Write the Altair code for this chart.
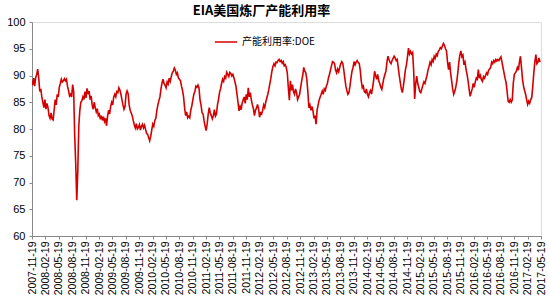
import altair as alt
import pandas as pd

title_text = "EIA美国炼厂产能利用率"
series_name = "产能利用率:DOE"

dates = [
    "2007-11-19", "2007-11-23", "2007-11-30", "2007-12-07", "2007-12-14", "2007-12-21", "2007-12-28",
    "2008-01-04", "2008-01-11", "2008-01-18", "2008-01-25", "2008-02-01", "2008-02-08", "2008-02-15",
    "2008-02-22", "2008-02-29", "2008-03-07", "2008-03-14", "2008-03-21", "2008-03-28", "2008-04-04",
    "2008-04-11", "2008-04-18", "2008-04-25", "2008-05-02", "2008-05-09", "2008-05-16", "2008-05-23",
    "2008-05-30", "2008-06-06", "2008-06-13", "2008-06-20", "2008-06-27", "2008-07-04", "2008-07-11",
    "2008-07-18", "2008-07-25", "2008-08-01", "2008-08-08", "2008-08-15", "2008-08-22", "2008-08-29",
    "2008-09-05", "2008-09-12", "2008-09-19", "2008-09-26", "2008-10-03", "2008-10-10", "2008-10-17",
    "2008-10-24", "2008-10-31", "2008-11-07", "2008-11-14", "2008-11-21", "2008-11-28", "2008-12-05",
    "2008-12-12", "2008-12-19", "2008-12-26",
    "2009-01-02", "2009-01-09", "2009-01-16", "2009-01-23", "2009-01-30", "2009-02-06", "2009-02-13",
    "2009-02-20", "2009-02-27", "2009-03-06", "2009-03-13", "2009-03-20", "2009-03-27", "2009-04-03",
    "2009-04-10", "2009-04-17", "2009-04-24", "2009-05-01", "2009-05-08", "2009-05-15", "2009-05-22",
    "2009-05-29", "2009-06-05", "2009-06-12", "2009-06-19", "2009-06-26", "2009-07-03", "2009-07-10",
    "2009-07-17", "2009-07-24", "2009-07-31", "2009-08-07", "2009-08-14", "2009-08-21", "2009-08-28",
    "2009-09-04", "2009-09-11", "2009-09-18", "2009-09-25", "2009-10-02", "2009-10-09", "2009-10-16",
    "2009-10-23", "2009-10-30", "2009-11-06", "2009-11-13", "2009-11-20", "2009-11-27", "2009-12-04",
    "2009-12-11", "2009-12-18", "2009-12-25",
    "2010-01-01", "2010-01-08", "2010-01-15", "2010-01-22", "2010-01-29", "2010-02-05", "2010-02-12",
    "2010-02-19", "2010-02-26", "2010-03-05", "2010-03-12", "2010-03-19", "2010-03-26", "2010-04-02",
    "2010-04-09", "2010-04-16", "2010-04-23", "2010-04-30", "2010-05-07", "2010-05-14", "2010-05-21",
    "2010-05-28", "2010-06-04", "2010-06-11", "2010-06-18", "2010-06-25", "2010-07-02", "2010-07-09",
    "2010-07-16", "2010-07-23", "2010-07-30", "2010-08-06", "2010-08-13", "2010-08-20", "2010-08-27",
    "2010-09-03", "2010-09-10", "2010-09-17", "2010-09-24", "2010-10-01", "2010-10-08", "2010-10-15",
    "2010-10-22", "2010-10-29", "2010-11-05", "2010-11-12", "2010-11-19", "2010-11-26", "2010-12-03",
    "2010-12-10", "2010-12-17", "2010-12-24", "2010-12-31",
    "2011-01-07", "2011-01-14", "2011-01-21", "2011-01-28", "2011-02-04", "2011-02-11", "2011-02-18",
    "2011-02-25", "2011-03-04", "2011-03-11", "2011-03-18", "2011-03-25", "2011-04-01", "2011-04-08",
    "2011-04-15", "2011-04-22", "2011-04-29", "2011-05-06", "2011-05-13", "2011-05-20", "2011-05-27",
    "2011-06-03", "2011-06-10", "2011-06-17", "2011-06-24", "2011-07-01", "2011-07-08", "2011-07-15",
    "2011-07-22", "2011-07-29", "2011-08-05", "2011-08-12", "2011-08-19", "2011-08-26", "2011-09-02",
    "2011-09-09", "2011-09-16", "2011-09-23", "2011-09-30", "2011-10-07", "2011-10-14", "2011-10-21",
    "2011-10-28", "2011-11-04", "2011-11-11", "2011-11-18", "2011-11-25", "2011-12-02", "2011-12-09",
    "2011-12-16", "2011-12-23", "2011-12-30",
    "2012-01-06", "2012-01-13", "2012-01-20", "2012-01-27", "2012-02-03", "2012-02-10", "2012-02-17",
    "2012-02-24", "2012-03-02", "2012-03-09", "2012-03-16", "2012-03-23", "2012-03-30", "2012-04-06",
    "2012-04-13", "2012-04-20", "2012-04-27", "2012-05-04", "2012-05-11", "2012-05-18", "2012-05-25",
    "2012-06-01", "2012-06-08", "2012-06-15", "2012-06-22", "2012-06-29", "2012-07-06", "2012-07-13",
    "2012-07-20", "2012-07-27", "2012-08-03", "2012-08-10", "2012-08-17", "2012-08-24", "2012-08-31",
    "2012-09-07", "2012-09-14", "2012-09-21", "2012-09-28", "2012-10-05", "2012-10-12", "2012-10-19",
    "2012-10-26", "2012-11-02", "2012-11-09", "2012-11-16", "2012-11-23", "2012-11-30", "2012-12-07",
    "2012-12-14", "2012-12-21", "2012-12-28",
    "2013-01-04", "2013-01-11", "2013-01-18", "2013-01-25", "2013-02-01", "2013-02-08", "2013-02-15",
    "2013-02-22", "2013-03-01", "2013-03-08", "2013-03-15", "2013-03-22", "2013-03-29", "2013-04-05",
    "2013-04-12", "2013-04-19", "2013-04-26", "2013-05-03", "2013-05-10", "2013-05-17", "2013-05-24",
    "2013-05-31", "2013-06-07", "2013-06-14", "2013-06-21", "2013-06-28", "2013-07-05", "2013-07-12",
    "2013-07-19", "2013-07-26", "2013-08-02", "2013-08-09", "2013-08-16", "2013-08-23", "2013-08-30",
    "2013-09-06", "2013-09-13", "2013-09-20", "2013-09-27", "2013-10-04", "2013-10-11", "2013-10-18",
    "2013-10-25", "2013-11-01", "2013-11-08", "2013-11-15", "2013-11-22", "2013-11-29", "2013-12-06",
    "2013-12-13", "2013-12-20", "2013-12-27",
    "2014-01-03", "2014-01-10", "2014-01-17", "2014-01-24", "2014-01-31", "2014-02-07", "2014-02-14",
    "2014-02-21", "2014-02-28", "2014-03-07", "2014-03-14", "2014-03-21", "2014-03-28", "2014-04-04",
    "2014-04-11", "2014-04-18", "2014-04-25", "2014-05-02", "2014-05-09", "2014-05-16", "2014-05-23",
    "2014-05-30", "2014-06-06", "2014-06-13", "2014-06-20", "2014-06-27", "2014-07-04", "2014-07-11",
    "2014-07-18", "2014-07-25", "2014-08-01", "2014-08-08", "2014-08-15", "2014-08-22", "2014-08-29",
    "2014-09-05", "2014-09-12", "2014-09-19", "2014-09-26", "2014-10-03", "2014-10-10", "2014-10-17",
    "2014-10-24", "2014-10-31", "2014-11-07", "2014-11-14", "2014-11-21", "2014-11-28", "2014-12-05",
    "2014-12-12", "2014-12-19", "2014-12-26",
    "2015-01-02", "2015-01-09", "2015-01-16", "2015-01-23", "2015-01-30", "2015-02-06", "2015-02-13",
    "2015-02-20", "2015-02-27", "2015-03-06", "2015-03-13", "2015-03-20", "2015-03-27", "2015-04-03",
    "2015-04-10", "2015-04-17", "2015-04-24", "2015-05-01", "2015-05-08", "2015-05-15", "2015-05-22",
    "2015-05-29", "2015-06-05", "2015-06-12", "2015-06-19", "2015-06-26", "2015-07-03", "2015-07-10",
    "2015-07-17", "2015-07-24", "2015-07-31", "2015-08-07", "2015-08-14", "2015-08-21", "2015-08-28",
    "2015-09-04", "2015-09-11", "2015-09-18", "2015-09-25", "2015-10-02", "2015-10-09", "2015-10-16",
    "2015-10-23", "2015-10-30", "2015-11-06", "2015-11-13", "2015-11-20", "2015-11-27", "2015-12-04",
    "2015-12-11", "2015-12-18", "2015-12-25",
    "2016-01-01", "2016-01-08", "2016-01-15", "2016-01-22", "2016-01-29", "2016-02-05", "2016-02-12",
    "2016-02-19", "2016-02-26", "2016-03-04", "2016-03-11", "2016-03-18", "2016-03-25", "2016-04-01",
    "2016-04-08", "2016-04-15", "2016-04-22", "2016-04-29", "2016-05-06", "2016-05-13", "2016-05-20",
    "2016-05-27", "2016-06-03", "2016-06-10", "2016-06-17", "2016-06-24", "2016-07-01", "2016-07-08",
    "2016-07-15", "2016-07-22", "2016-07-29", "2016-08-05", "2016-08-12", "2016-08-19", "2016-08-26",
    "2016-09-02", "2016-09-09", "2016-09-16", "2016-09-23", "2016-09-30", "2016-10-07", "2016-10-14",
    "2016-10-21", "2016-10-28", "2016-11-04", "2016-11-11", "2016-11-18", "2016-11-25", "2016-12-02",
    "2016-12-09", "2016-12-16", "2016-12-23", "2016-12-30",
    "2017-01-06", "2017-01-13", "2017-01-20", "2017-01-27", "2017-02-03", "2017-02-10", "2017-02-17",
    "2017-02-24", "2017-03-03", "2017-03-10", "2017-03-17", "2017-03-24", "2017-03-31", "2017-04-07",
    "2017-04-14", "2017-04-21", "2017-04-28", "2017-05-05", "2017-05-12",
]

util = [
    89.0, 88.2, 89.5, 88.0, 89.6, 90.2, 91.2,
    89.5, 87.0, 87.5, 86.0, 85.0, 84.0, 85.5,
    83.7, 84.8, 84.0, 82.5, 82.0, 83.0, 81.9,
    81.7, 83.5, 85.5, 84.5, 86.5, 86.0, 87.8,
    88.5, 89.3, 88.8, 89.0, 89.4, 89.0, 89.3,
    88.0, 87.2, 86.2, 86.5, 86.0, 88.3, 87.0,
    78.8, 73.5, 66.7, 72.0, 80.6, 83.5, 85.0,
    85.3, 86.0, 85.5, 87.0, 85.8, 87.6, 86.5,
    87.1, 85.5, 86.2,
    84.5, 83.7, 85.0, 84.0, 83.2, 83.8, 82.5,
    82.8, 81.8, 82.5, 81.6, 82.3, 81.4, 82.0,
    80.6, 82.4, 83.5, 82.8, 84.2, 85.0, 84.5,
    86.0, 86.5, 86.0, 87.0, 86.8, 87.7, 87.3,
    86.5, 85.5, 84.5, 83.7, 84.2, 86.5, 87.1,
    86.6, 84.5, 83.5, 83.0, 82.5, 81.6, 80.8,
    80.2, 81.0, 80.0, 80.3, 80.8, 79.8, 80.5,
    80.9, 80.2, 80.7,
    79.9, 79.2, 79.0, 78.4, 77.8, 78.6, 79.8,
    80.9, 80.5, 81.6, 82.0, 83.5, 84.5, 85.3,
    86.0, 87.5, 88.6, 89.3, 88.5, 88.2, 87.7,
    88.8, 88.4, 89.5, 88.9, 89.8, 90.5, 90.8,
    91.4, 91.0, 90.2, 90.5, 89.5, 89.3, 89.0,
    88.0, 87.2, 86.0, 84.0, 82.5, 83.2, 82.1,
    82.4, 82.1, 83.5, 84.3, 85.4, 86.5, 87.0,
    88.0, 87.8, 88.2, 87.7,
    85.5, 84.5, 83.0, 82.8, 81.5, 80.5, 79.7,
    81.0, 82.8, 84.0, 83.0, 82.5, 81.9, 82.5,
    83.6, 82.4, 82.8, 84.5, 85.5, 86.8, 87.5,
    88.5, 89.3, 88.9, 89.8, 89.5, 90.6, 90.2,
    89.8, 90.6, 90.4, 89.9, 90.2, 89.6, 88.8,
    88.0, 86.5, 85.0, 83.4, 84.2, 83.6, 84.8,
    85.4, 86.0, 84.8, 86.5, 85.5, 87.7, 86.0,
    86.8, 85.4, 84.5,
    83.8, 82.5, 83.5, 83.9, 84.6, 83.8, 82.2,
    83.0, 82.8, 83.5, 84.5, 84.0, 85.0, 85.8,
    86.5, 87.4, 88.5, 89.5, 90.8, 91.7, 92.2,
    91.8, 92.5, 92.4, 92.8, 93.0, 92.6, 92.8,
    92.3, 92.6, 91.8, 92.0, 91.5, 90.5, 87.7,
    85.4, 89.0, 87.2, 88.3, 87.0, 86.5, 87.5,
    86.8, 85.5, 86.0, 86.5, 87.8, 89.0, 90.0,
    91.5, 90.8, 90.5,
    89.3, 87.0, 84.0, 84.5, 83.5, 84.2, 83.4,
    82.0, 82.5, 80.9, 83.5, 84.5, 85.4, 86.0,
    86.5, 87.1, 86.5, 87.5, 87.2, 88.0, 88.5,
    89.5, 90.2, 91.0, 91.8, 92.6, 92.5, 92.2,
    91.0, 90.5, 91.2, 90.7, 91.5, 92.2, 92.6,
    92.3, 91.0, 89.5, 88.0, 87.2, 86.5, 86.8,
    88.0, 89.5, 90.8, 91.5, 92.6, 92.0, 92.5,
    92.8, 92.4, 92.3,
    91.0, 89.0, 87.7, 88.0, 87.0, 86.8, 87.5,
    86.5, 86.0, 86.8, 87.2, 86.5, 87.7, 89.0,
    90.8, 90.0, 89.3, 90.2, 89.0, 88.5, 87.8,
    87.4, 88.5, 89.5, 90.2, 90.8, 92.5, 93.6,
    93.0, 92.5, 92.2, 92.8, 93.2, 93.6, 93.3,
    92.8, 93.0, 91.5, 90.0, 88.7, 87.5, 86.8,
    88.0, 89.5, 91.1, 92.0, 93.5, 95.1, 94.0,
    94.5, 94.0, 94.3,
    91.0, 85.6, 88.5, 89.9, 88.5, 87.8, 87.0,
    86.8, 87.5, 88.2, 88.8, 88.5, 89.3, 90.0,
    91.0, 91.7, 92.5, 92.0, 93.0, 92.6, 93.6,
    93.2, 94.0, 93.7, 94.5, 94.8, 95.2, 95.0,
    95.5, 96.0, 95.6, 95.0, 94.6, 92.5, 91.1,
    92.5, 90.5, 89.0, 87.5, 86.5, 87.0, 87.8,
    88.9, 90.5, 92.5, 93.8, 94.6, 93.5, 93.8,
    92.0, 92.5, 91.2,
    90.2, 89.0, 87.5, 86.1, 86.8, 87.5, 88.5,
    87.8, 88.8, 89.5, 89.3, 91.1, 89.5, 90.0,
    89.2, 88.9, 89.8, 89.5, 90.0, 90.5, 90.2,
    91.0, 91.2, 91.5, 92.5, 92.2, 92.8, 92.5,
    93.0, 92.7, 93.0, 92.8, 93.2, 93.5, 92.5,
    91.5, 90.5, 89.5, 88.7, 87.0, 85.2, 85.0,
    85.5, 85.0, 85.4, 88.5, 90.2, 90.5, 90.8,
    91.5, 91.0, 92.5, 93.6,
    91.5, 89.3, 88.0, 87.2, 86.5, 85.5, 84.6,
    85.2, 84.8, 85.5, 85.9, 88.0, 90.5, 92.5,
    93.9, 92.2, 92.5, 93.3, 92.5,
]

tick_dates = [
    "2007-11-19", "2008-02-19", "2008-05-19", "2008-08-19", "2008-11-19",
    "2009-02-19", "2009-05-19", "2009-08-19", "2009-11-19",
    "2010-02-19", "2010-05-19", "2010-08-19", "2010-11-19",
    "2011-02-19", "2011-05-19", "2011-08-19", "2011-11-19",
    "2012-02-19", "2012-05-19", "2012-08-19", "2012-11-19",
    "2013-02-19", "2013-05-19", "2013-08-19", "2013-11-19",
    "2014-02-19", "2014-05-19", "2014-08-19", "2014-11-19",
    "2015-02-19", "2015-05-19", "2015-08-19", "2015-11-19",
    "2016-02-19", "2016-05-19", "2016-08-19", "2016-11-19",
    "2017-02-19", "2017-05-19",
]
y_ticks = [60, 65, 70, 75, 80, 85, 90, 95, 100]

df = pd.DataFrame({"date": dates, "value": util})
df["series"] = series_name


def to_ms(s):
    return int(pd.Timestamp(s, tz="UTC").value // 10**6)


tick_ms = [to_ms(d) for d in tick_dates]
x_domain = [tick_ms[0], tick_ms[-1]]

chart = (
    alt.Chart(df)
    .mark_line(strokeWidth=1.6, clip=True)
    .encode(
        x=alt.X(
            "date:T",
            scale=alt.Scale(type="utc", domain=x_domain),
            axis=alt.Axis(
                values=tick_ms,
                format="%Y-%m-%d",
                title=None,
                grid=False,
                labelAngle=270,
                labelAlign="right",
                labelBaseline="middle",
                labelFont="Liberation Sans",
                labelFontSize=10.5,
                labelPadding=2,
                labelOverlap=False,
                tickSize=3,
            ),
        ),
        y=alt.Y(
            "value:Q",
            scale=alt.Scale(domain=[60, 100], nice=False, zero=False),
            axis=alt.Axis(
                values=y_ticks,
                title=None,
                grid=False,
                labelFont="Liberation Sans",
                labelFontSize=11,
                labelPadding=4,
                tickSize=3,
            ),
        ),
        color=alt.Color(
            "series:N",
            scale=alt.Scale(range=["#d40000"]),
            legend=alt.Legend(
                title=None,
                orient="none",
                legendX=182,
                legendY=8,
                symbolType="stroke",
                symbolSize=500,
                symbolStrokeWidth=1.5,
                labelFont="Noto Sans CJK SC",
                labelFontSize=10,
                labelColor="black",
                padding=0,
            ),
        ),
    )
    .properties(
        width=509,
        height=214,
        title=alt.TitleParams(
            title_text,
            font="Noto Sans CJK SC",
            fontSize=13,
            fontWeight="bold",
            color="black",
            anchor="middle",
            dx=-25,
            dy=7,
            offset=5,
        ),
        autosize=alt.AutoSizeParams(type="none"),
        padding={"left": 32, "top": 22, "right": 8, "bottom": 64},
    )
    .configure_view(stroke="black", strokeWidth=1)
    .configure_axis(
        domainColor="black",
        tickColor="black",
        labelColor="black",
    )
    .configure(background="white")
)

chart.save("out.html", embed_options={"renderer": "svg", "actions": False})
